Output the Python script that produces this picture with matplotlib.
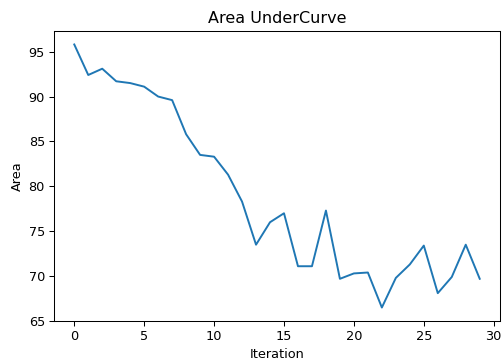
import matplotlib
matplotlib.use("Agg")
import matplotlib.pyplot as plt

iterations = list(range(30))
area = [95.8, 92.4, 93.1, 91.7, 91.5, 91.1, 90.0, 89.6, 85.8, 83.5,
        83.3, 81.3, 78.3, 73.5, 76.0, 77.0, 71.1, 71.1, 77.3, 69.7,
        70.3, 70.4, 66.5, 69.8, 71.3, 73.4, 68.1, 69.9, 73.5, 69.7]

DPI = 93
fig = plt.figure(figsize=(503 / DPI, 361 / DPI), dpi=DPI)
ax = fig.add_axes([54 / 503, 1 - 321 / 361, 446 / 503, 290 / 361])
ax.plot(iterations, area)
ax.set_ylim(65.0, 97.3)
ax.set_title("Area UnderCurve", fontsize=12.4)
ax.set_xlabel("Iteration")
ax.set_ylabel("Area")
fig.savefig("out.png", dpi=DPI)
